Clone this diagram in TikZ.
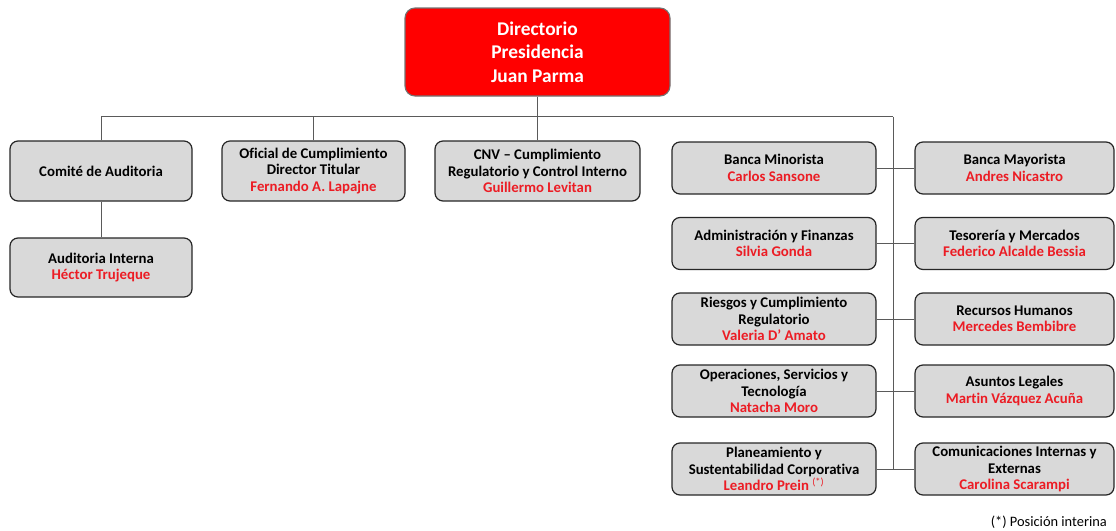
\documentclass[tikz,border=0pt]{standalone}
\usepackage{fontspec}
\setmainfont{Carlito}[Ligatures=NoCommon]
\definecolor{nred}{RGB}{236,28,36}
\definecolor{topred}{RGB}{255,0,0}
\definecolor{boxgray}{RGB}{217,217,217}
\definecolor{linegray}{RGB}{90,90,90}
\begin{document}
\begin{tikzpicture}[x=1pt,y=-1pt,
  box/.style={draw=black!85, line width=1.2pt, rounded corners=8pt, fill=boxgray,
    align=center, inner sep=0pt, font=\bfseries\fontsize{14.8}{16.5}\selectfont},
  topbox/.style={draw=black!55, line width=1.1pt, rounded corners=10pt, fill=topred,
    align=center, inner sep=0pt, text=white, font=\bfseries\fontsize{19.4}{23.5}\selectfont},
  conn/.style={draw=linegray, line width=0.8pt}]
\useasboundingbox (0,0) rectangle (1116,530);
\newcommand{\nm}[1]{\textcolor{nred}{#1}}

\node[topbox, minimum width=265pt, minimum height=88pt] (top) at (537.5,52) {Directorio\\Presidencia\\Juan Parma};

\node[box, minimum width=182pt, minimum height=60pt] (comite) at (101,171) {Comité de Auditoria};
\node[box, minimum width=182pt, minimum height=59pt] (audit) at (101,267.5) {Auditoria Interna\\\nm{Héctor Trujeque}};
\node[box, minimum width=183pt, minimum height=60pt] (oficial) at (313.5,171) {Oficial de Cumplimiento\\Director Titular\\\nm{Fernando A. Lapajne}};
\node[box, minimum width=205pt, minimum height=60pt] (cnv) at (537.5,171) {CNV -- Cumplimiento\\Regulatorio y Control Interno\\\nm{Guillermo Levitan}};

\node[box, minimum width=204pt, minimum height=52pt] (l1) at (774,168) {Banca Minorista\\\nm{Carlos Sansone}};
\node[box, minimum width=199pt, minimum height=52pt] (r1) at (1014.5,168) {Banca Mayorista\\\nm{Andres Nicastro}};
\node[box, minimum width=204pt, minimum height=52pt] (l2) at (774,243.5) {Administración y Finanzas\\\nm{Silvia Gonda}};
\node[box, minimum width=199pt, minimum height=52pt] (r2) at (1014.5,243.5) {Tesorería y Mercados\\\nm{Federico Alcalde Bessia}};
\node[box, minimum width=204pt, minimum height=52pt] (l3) at (774,319) {Riesgos y Cumplimiento\\Regulatorio\\\nm{Valeria D’ Amato}};
\node[box, minimum width=199pt, minimum height=52pt] (r3) at (1014.5,319) {Recursos Humanos\\\nm{Mercedes Bembibre}};
\node[box, minimum width=204pt, minimum height=52pt] (l4) at (774,391) {Operaciones, Servicios y\\Tecnología\\\nm{Natacha Moro}};
\node[box, minimum width=199pt, minimum height=52pt] (r4) at (1014.5,391) {Asuntos Legales\\\nm{Martin Vázquez Acuña}};
\node[box, minimum width=204pt, minimum height=52pt] (l5) at (774,469) {Planeamiento y\\Sustentabilidad Corporativa\\\nm{Leandro Prein \textsuperscript{\mdseries(*)}}};
\node[box, minimum width=199pt, minimum height=52pt] (r5) at (1014.5,469) {Comunicaciones Internas y\\Externas\\\nm{Carolina Scarampi}};

\node[anchor=east, inner sep=0pt, font=\fontsize{14.4}{16}\selectfont] (note) at (1107,522) {(*) Posición interina};

\coordinate (busL) at (101,116.5);
\coordinate (busR) at (893,116.5);
\coordinate (spineB) at (893,469);

\draw[conn] (busL) -- (busR);
\draw[conn] (top.south) -- (top.south |- busL);
\draw[conn] (comite.north) -- (comite.north |- busL);
\draw[conn] (oficial.north) -- (oficial.north |- busL);
\draw[conn] (cnv.north) -- (cnv.north |- busL);
\draw[conn] (comite.south) -- (audit.north);
\draw[conn] (busR) -- (spineB);
\foreach \i in {1,...,5} {\draw[conn] (l\i.east) -- (r\i.west);}
\end{tikzpicture}
\end{document}
